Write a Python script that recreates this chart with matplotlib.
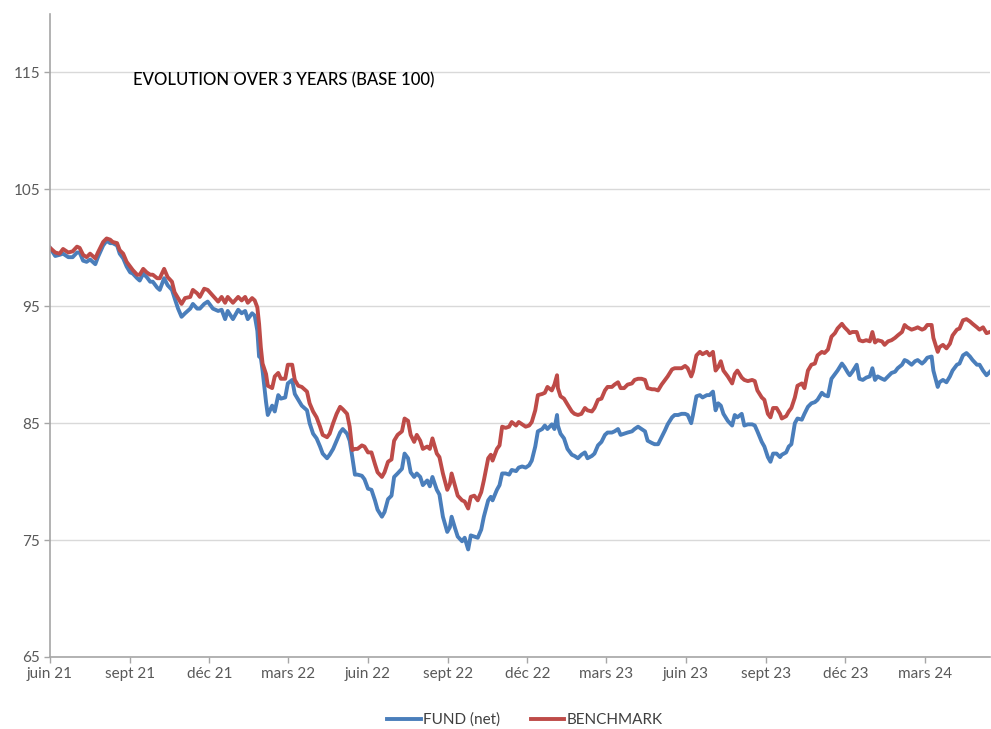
import matplotlib
matplotlib.use("Agg")
import matplotlib.pyplot as plt
import pandas as pd

start_date = "2021-06-01"
day_offsets = [
    0, 6, 11, 15, 21, 26, 31, 34, 38, 42, 46, 52, 55, 61, 65, 69, 72, 77, 80, 84,
    88, 92, 95, 100, 103, 107, 111, 115, 118, 123, 126, 131, 135, 140, 143, 147, 151, 155, 161, 164,
    169, 172, 177, 181, 187, 193, 197, 201, 204, 210, 216, 220, 224, 227, 232, 235, 238, 240, 242, 244,
    248, 250, 255, 258, 262, 265, 270, 273, 278, 281, 285, 289, 295, 298, 302, 306, 310, 313, 318, 321,
    325, 329, 333, 336, 341, 344, 347, 350, 353, 358, 361, 365, 369, 373, 376, 381, 384, 388, 392, 395,
    399, 404, 407, 411, 414, 418, 421, 425, 428, 433, 436, 439, 444, 447, 451, 456, 459, 461, 465, 468,
    473, 476, 480, 483, 487, 491, 495, 498, 503, 506, 508, 513, 516, 519, 523, 527, 530, 535, 538, 542,
    546, 550, 553, 557, 560, 565, 568, 571, 576, 579, 582, 583, 586, 590, 594, 599, 602, 606, 610, 614,
    617, 622, 625, 629, 633, 637, 640, 645, 648, 652, 655, 659, 663, 668, 671, 675, 679, 683, 686, 691,
    694, 698, 702, 706, 709, 714, 717, 721, 725, 729, 732, 736, 738, 742, 746, 749, 754, 757, 761, 764,
    767, 770, 773, 778, 783, 786, 789, 794, 797, 801, 806, 809, 812, 817, 820, 824, 827, 830, 834, 838,
    840, 845, 848, 851, 855, 858, 863, 866, 870, 874, 878, 881, 886, 889, 893, 897, 901, 904, 909, 912,
    916, 918, 921, 926, 929, 933, 937, 941, 944, 947, 950, 955, 958, 962, 966, 970, 973, 978, 981, 984,
    989, 993, 996, 1001, 1004, 1007, 1012, 1014, 1019, 1021, 1025, 1029, 1033, 1036, 1041, 1044, 1048, 1052, 1056, 1059,
    1064, 1067, 1071, 1075, 1079,
]

fund = [
    100.0, 99.3, 99.4, 99.5, 99.2, 99.2, 99.6, 99.6, 98.9, 98.8, 99.0, 98.6, 99.2, 100.2, 100.6, 100.4, 100.4, 100.2, 99.5, 99.1,
    98.4, 97.9, 97.8, 97.4, 97.2, 97.8, 97.5, 97.1, 97.1, 96.6, 96.4, 97.4, 96.8, 96.4, 95.7, 94.8, 94.1, 94.4, 94.8, 95.2,
    94.8, 94.8, 95.2, 95.4, 94.8, 94.6, 94.7, 93.9, 94.6, 93.9, 94.7, 94.4, 94.6, 93.9, 94.4, 94.2, 92.9, 90.7, 90.6, 89.5,
    86.8, 85.7, 86.5, 86.0, 87.4, 87.1, 87.2, 88.4, 88.7, 87.5, 87.0, 86.5, 86.1, 85.0, 84.1, 83.7, 83.0, 82.4, 82.0, 82.3,
    82.8, 83.5, 84.2, 84.5, 84.1, 83.5, 82.1, 80.6, 80.6, 80.5, 80.2, 79.4, 79.3, 78.4, 77.6, 77.0, 77.4, 78.5, 78.8, 80.4,
    80.7, 81.1, 82.4, 82.0, 80.8, 80.4, 80.7, 80.4, 79.7, 80.1, 79.6, 80.4, 79.3, 78.9, 77.0, 75.7, 76.1, 77.0, 76.0, 75.3,
    74.9, 75.2, 74.2, 75.4, 75.3, 75.2, 75.9, 77.0, 78.4, 78.7, 78.4, 79.3, 79.7, 80.7, 80.7, 80.6, 81.0, 80.9, 81.2, 81.3,
    81.2, 81.4, 81.8, 83.0, 84.3, 84.5, 84.8, 84.5, 84.9, 84.5, 85.7, 84.8, 84.1, 83.7, 82.8, 82.3, 82.2, 82.0, 82.3, 82.5,
    82.0, 82.2, 82.4, 83.1, 83.4, 84.0, 84.2, 84.2, 84.3, 84.5, 84.0, 84.1, 84.2, 84.3, 84.5, 84.7, 84.5, 84.3, 83.5, 83.3,
    83.2, 83.2, 83.8, 84.4, 84.9, 85.5, 85.7, 85.7, 85.8, 85.8, 85.7, 85.0, 85.7, 87.3, 87.4, 87.2, 87.4, 87.4, 87.7, 86.1,
    86.7, 86.5, 85.8, 85.2, 84.8, 85.7, 85.5, 85.8, 84.8, 84.9, 84.9, 84.8, 84.3, 83.4, 83.0, 82.1, 81.7, 82.4, 82.4, 82.1,
    82.3, 82.5, 83.0, 83.2, 85.0, 85.4, 85.3, 85.8, 86.4, 86.7, 86.8, 87.0, 87.6, 87.4, 87.3, 88.8, 89.2, 89.5, 90.1, 89.8,
    89.3, 89.1, 89.4, 90.0, 88.8, 88.7, 88.9, 89.0, 89.7, 88.7, 89.0, 88.8, 88.7, 89.0, 89.3, 89.4, 89.7, 90.0, 90.4, 90.3,
    90.0, 90.3, 90.4, 90.1, 90.3, 90.6, 90.7, 89.5, 88.1, 88.5, 88.7, 88.5, 89.0, 89.5, 90.0, 90.1, 90.8, 91.0, 90.7, 90.4,
    90.0, 90.0, 89.5, 89.1, 89.4,
]

benchmark = [
    100.0, 99.6, 99.5, 99.9, 99.6, 99.7, 100.1, 100.0, 99.4, 99.2, 99.5, 99.1, 99.6, 100.5, 100.8, 100.7, 100.5, 100.4, 99.8, 99.5,
    98.8, 98.4, 98.1, 97.7, 97.7, 98.2, 97.9, 97.7, 97.7, 97.4, 97.4, 98.2, 97.5, 97.1, 96.2, 95.7, 95.2, 95.7, 95.8, 96.4,
    96.1, 95.8, 96.5, 96.4, 95.9, 95.4, 95.8, 95.3, 95.8, 95.3, 95.8, 95.5, 95.8, 95.3, 95.7, 95.5, 94.9, 93.5, 91.5, 90.1,
    89.2, 88.2, 88.0, 89.0, 89.3, 88.8, 88.8, 90.0, 90.0, 88.7, 88.2, 88.1, 87.7, 86.7, 86.0, 85.5, 84.7, 84.0, 83.8, 84.1,
    85.0, 85.8, 86.4, 86.2, 85.8, 84.7, 82.7, 82.8, 82.8, 83.1, 83.0, 82.5, 82.5, 81.5, 80.8, 80.4, 80.8, 81.7, 81.9, 83.5,
    84.0, 84.3, 85.4, 85.2, 84.0, 83.4, 84.0, 83.5, 82.8, 83.0, 82.8, 83.7, 82.4, 82.1, 80.7, 79.3, 79.8, 80.7, 79.6, 78.8,
    78.4, 78.3, 77.7, 78.7, 78.8, 78.4, 79.1, 80.1, 82.0, 82.3, 81.8, 82.8, 83.1, 84.7, 84.6, 84.7, 85.1, 84.8, 85.1, 84.9,
    84.7, 84.8, 85.1, 86.1, 87.4, 87.5, 87.6, 88.1, 87.8, 88.3, 89.1, 88.0, 87.3, 87.1, 86.6, 86.0, 85.8, 85.7, 85.8, 86.3,
    86.1, 86.0, 86.3, 87.0, 87.1, 87.8, 88.1, 88.1, 88.3, 88.5, 88.0, 88.0, 88.3, 88.4, 88.7, 88.8, 88.8, 88.7, 88.0, 87.9,
    87.9, 87.8, 88.3, 88.7, 89.0, 89.6, 89.7, 89.7, 89.7, 89.9, 89.7, 89.0, 89.4, 90.8, 91.1, 90.9, 91.1, 90.8, 91.1, 89.5,
    89.8, 90.3, 89.5, 89.0, 88.4, 89.2, 89.5, 88.9, 88.7, 88.6, 88.7, 88.6, 87.8, 87.2, 87.0, 85.8, 85.5, 86.3, 86.3, 85.8,
    85.4, 85.6, 86.0, 86.3, 87.2, 88.2, 88.4, 88.0, 89.5, 90.0, 90.1, 90.8, 91.1, 91.0, 91.3, 92.4, 92.7, 93.1, 93.5, 93.2,
    92.9, 92.7, 92.8, 92.8, 92.1, 92.0, 92.1, 92.0, 92.8, 91.9, 92.1, 92.0, 91.7, 92.0, 92.1, 92.3, 92.5, 92.8, 93.4, 93.2,
    93.0, 93.1, 93.2, 93.0, 93.1, 93.4, 93.4, 92.3, 91.1, 91.5, 91.7, 91.4, 91.8, 92.5, 93.0, 93.1, 93.8, 93.9, 93.7, 93.5,
    93.2, 93.0, 93.2, 92.7, 92.8,
]

series_labels = ["FUND (net)", "BENCHMARK"]
title_text = "EVOLUTION OVER 3 YEARS (BASE 100)"
y_ticks = [65, 75, 85, 95, 105, 115]
x_tick_dates = ["2021-06-01", "2021-09-01", "2021-12-01", "2022-03-01", "2022-06-01", "2022-09-01",
                "2022-12-01", "2023-03-01", "2023-06-01", "2023-09-01", "2023-12-01", "2024-03-01"]
x_tick_labels = ["juin 21", "sept 21", "déc 21", "mars 22", "juin 22", "sept 22",
                 "déc 22", "mars 23", "juin 23", "sept 23", "déc 23", "mars 24"]

dates = pd.to_datetime(start_date) + pd.to_timedelta(day_offsets, unit="D")

plt.rcParams["font.family"] = ["Lato", "DejaVu Sans"]

fig = plt.figure(figsize=(9.91, 7.29), dpi=100)
ax = fig.add_axes([50 / 991, 1 - 657 / 729, 940 / 991, (657 - 14) / 729])

ax.plot(dates, fund, color="#4A7EBB", lw=2.8, label=series_labels[0], solid_joinstyle="round")
ax.plot(dates, benchmark, color="#BE4B48", lw=2.8, label=series_labels[1], solid_joinstyle="round")

ax.set_ylim(65, 120)
ax.set_yticks(y_ticks)
ax.set_xlim(pd.Timestamp(start_date), dates[-1])
ax.set_xticks(pd.to_datetime(x_tick_dates))
ax.set_xticklabels(x_tick_labels)

ax.grid(axis="y", color="#D9D9D9", lw=1)
ax.set_axisbelow(True)
for s in ["top", "right"]:
    ax.spines[s].set_visible(False)
for s in ["left", "bottom"]:
    ax.spines[s].set_color("#A6A6A6")
    ax.spines[s].set_linewidth(1.2)
ax.tick_params(axis="both", colors="#A6A6A6", labelcolor="#595959", labelsize=11, length=4, width=1)
ax.tick_params(axis="y", pad=3)
ax.tick_params(axis="x", pad=3)

fig.text(133 / 991, 1 - 80 / 729, title_text, fontsize=12, fontweight="medium", color="black",
         va="center", ha="left")

leg = fig.legend(loc="center", bbox_to_anchor=(525 / 991, 1 - 720 / 729), ncol=2, frameon=False,
                 fontsize=11, handlelength=2.2, handletextpad=0.15, columnspacing=2.0)
for t in leg.get_texts():
    t.set_color("#404040")

fig.savefig("out.png", dpi=100)
